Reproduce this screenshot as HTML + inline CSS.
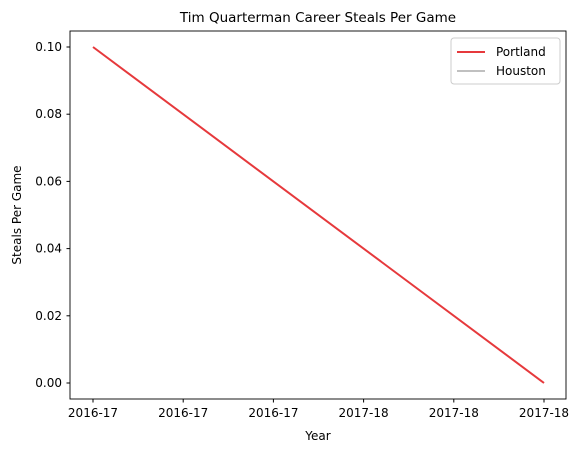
<!DOCTYPE html>
<html><head><meta charset="utf-8"><style>
body{margin:0;background:#fff}
svg{display:block;font-family:"DejaVu Sans","Liberation Sans",sans-serif}
</style></head><body>
<svg id="chart" width="582" height="453" viewBox="0 0 582 453">
<rect width="582" height="453" fill="#fff"/>
<text x="318" y="22" text-anchor="middle" font-size="13.5" fill="#000">Tim Quarterman Career Steals Per Game</text>
<g id="yticks"></g><g id="xticks"></g><g id="series"></g>
<rect x="70" y="31" width="496" height="368" fill="none" stroke="#000" stroke-width="0.9"/>
<text x="318" y="440" text-anchor="middle" font-size="12">Year</text>
<text transform="translate(21,215) rotate(-90)" text-anchor="middle" font-size="12">Steals Per Game</text>
<g>
<rect x="451" y="38" width="109" height="46" rx="3" fill="#fff" stroke="#ccc" stroke-width="1"/>
<line x1="457" y1="52" x2="485" y2="52" stroke="#e6393c" stroke-width="2"/>
<text x="496" y="56" font-size="12">Portland</text>
<line x1="457" y1="71" x2="485" y2="71" stroke="#c0c0c0" stroke-width="2"/>
<text x="496" y="75" font-size="12">Houston</text>
</g>
</svg>
<script>
const xLabels = ["2016-17","2016-17","2016-17","2017-18","2017-18","2017-18"];
const yTicks = [0.00,0.02,0.04,0.06,0.08,0.10];
const portlandX = [0, 1];
const portlandY = [0.10, 0.00];
const NS="http://www.w3.org/2000/svg";
const xs=v=>93+v*451;
const ys=v=>383-v*3360;
const yg=document.getElementById('yticks');
yTicks.forEach(t=>{
  const l=document.createElementNS(NS,'line');
  l.setAttribute('x1',66.5);l.setAttribute('x2',70);l.setAttribute('y1',ys(t));l.setAttribute('y2',ys(t));l.setAttribute('stroke','#000');
  
  
  yg.appendChild(l);
  const s=document.createElementNS(NS,'text');
  s.setAttribute('x',62);s.setAttribute('y',ys(t)+4);s.setAttribute('text-anchor','end');s.setAttribute('font-size','12');
  s.textContent=t.toFixed(2);
  
  
  yg.appendChild(s);
});
const xg=document.getElementById('xticks');
xLabels.forEach((lab,i)=>{
  const x=xs(i/(xLabels.length-1));
  const l=document.createElementNS(NS,'line');
  l.setAttribute('x1',x);l.setAttribute('x2',x);l.setAttribute('y1',399);l.setAttribute('y2',402.5);l.setAttribute('stroke','#000');
  
  
  xg.appendChild(l);
  const s=document.createElementNS(NS,'text');
  s.setAttribute('x',x);s.setAttribute('y',417);s.setAttribute('text-anchor','middle');s.setAttribute('font-size','12');
  s.textContent=lab;
  
  
  xg.appendChild(s);
});
const p=document.createElementNS(NS,'polyline');
p.setAttribute('points',portlandX.map((x,i)=>xs(x)+','+ys(portlandY[i])).join(' '));
p.setAttribute('fill','none');p.setAttribute('stroke','#e6393c');p.setAttribute('stroke-width','2');


document.getElementById('series').appendChild(p);
</script>
</body></html>
